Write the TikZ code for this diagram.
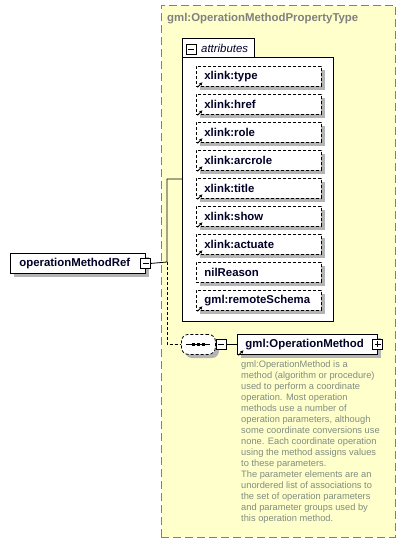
\documentclass[tikz,border=0pt]{standalone}
\usepackage{fontspec}
\setmainfont{Liberation Sans}
\usetikzlibrary{calc,arrows.meta}
\definecolor{yel}{RGB}{255,255,204}
\definecolor{shd}{RGB}{180,180,180}
\definecolor{ttl}{RGB}{128,128,128}
\definecolor{dsc}{RGB}{128,140,128}
\definecolor{nav}{RGB}{0,0,40}
\tikzset{
  lbl/.style={font=\fontsize{11.4}{13}\selectfont\bfseries, text=nav},
  attrbx/.style={draw, dashed, dash pattern=on 3pt off 2pt, fill=white, lbl,
    minimum height=20pt, text width=109pt, inner xsep=8pt, inner ysep=0pt,
    anchor=north west, align=left, line width=0.8pt},
  elbx/.style={draw, fill=white, lbl, minimum height=20pt, inner ysep=0pt,
    anchor=north west, align=left, line width=0.8pt},
  minusbx/.style={draw, fill=white, minimum size=10pt, inner sep=0pt, line width=0.8pt,
    path picture={\draw[line width=0.8pt] ($(path picture bounding box.west)+(2,0)$) -- ($(path picture bounding box.east)+(-2,0)$);}},
  plusbx/.style={draw, fill=white, minimum size=10pt, inner sep=0pt, line width=0.8pt,
    path picture={\draw[line width=0.8pt] ($(path picture bounding box.west)+(2,0)$) -- ($(path picture bounding box.east)+(-2,0)$);
      \draw[line width=0.8pt] ($(path picture bounding box.north)+(0,2)$) -- ($(path picture bounding box.south)+(0,-2)$);}},
  refarrow/.style={-{Latex[length=3pt,width=3.5pt]}, line width=0.9pt},
  conn/.style={line width=0.8pt},
  shadowfill/.style={fill=shd},
}
\begin{document}
\begin{tikzpicture}[x=1pt,y=-1pt]
\useasboundingbox (0,0) rectangle (406,543);
% outer type box
\node[draw=ttl, fill=yel, dashed, dash pattern=on 8pt off 4pt, line width=0.9pt,
  minimum width=234pt, minimum height=532pt, inner sep=0pt, anchor=north west] (ptype) at (161,5) {};
\node[anchor=west, inner sep=0pt, font=\fontsize{11.4}{13}\selectfont\bfseries, text=ttl] (title) at (167,19) {gml:OperationMethodPropertyType};
% attributes container
\node[draw, fill=white, line width=0.8pt, minimum width=151pt, minimum height=264pt, inner sep=0pt, anchor=north west] (attrbox) at (182,57) {};
\node[fill=white, minimum width=72pt, minimum height=19pt, inner sep=0pt, anchor=north west] (attrtab) at (182,38) {};
\draw[line width=0.8pt] (attrtab.south west) |- (attrtab.north east) -- (attrtab.south east);
\node[minusbx] (attrm) at (191,49.5) {};
\node[anchor=west, inner sep=0pt, font=\fontsize{11.4}{13}\selectfont\itshape, text=nav] (attrtxt) at (201,48) {attributes};
% shadows
\foreach \k in {0,...,8}{
  \fill[shadowfill] (200,{70+28*\k}) rectangle ++(125,20);
}
\fill[shadowfill] (14,257) rectangle ++(135,20);
\fill[shadowfill, rounded corners=7pt] (185,338) rectangle ++(34,20);
\fill[shadowfill] (241,338) rectangle ++(140,20);
% attributes
\node[attrbx] (a1) at (196,66) {xlink:type};
\node[attrbx] (a2) at (196,94) {xlink:href};
\node[attrbx] (a3) at (196,122) {xlink:role};
\node[attrbx] (a4) at (196,150) {xlink:arcrole};
\node[attrbx] (a5) at (196,178) {xlink:title};
\node[attrbx] (a6) at (196,206) {xlink:show};
\node[attrbx] (a7) at (196,234) {xlink:actuate};
\node[attrbx] (a8) at (196,262) {nilReason};
\node[attrbx] (a9) at (196,290) {gml:remoteSchema};
\foreach \n in {a1,a2,a3,a4,a5,a6,a7,a9}{
  \draw[refarrow] ($(\n.south west)+(1.5,0.5)$) -- ++(5,-5);
}
% element
\node[elbx, minimum width=135pt, text width=117pt, inner xsep=9pt] (omr) at (10,253) {operationMethodRef};
\node[minusbx] (omrm) at (omr.east) {};
% sequence
\node[draw, dashed, dash pattern=on 3pt off 2pt, fill=white, rounded corners=7pt,
  minimum width=34pt, minimum height=20pt, inner sep=0pt, line width=0.8pt, anchor=north west] (seq) at (181,334) {};
\draw[line width=0.9pt] ($(seq.center)+(-12,0)$) -- ($(seq.center)+(12,0)$);
\foreach \dx in {-5,0,5}{
  \fill ($(seq.center)+(\dx,0)+(-1.6,-1.6)$) rectangle ++(3.2,3.2);
}
\node[minusbx, anchor=west] (seqm) at (seq.east) {};
% child element
\node[elbx, minimum width=140pt, text width=124pt, inner xsep=8pt] (om) at (237,334) {gml:OperationMethod};
\draw[refarrow] ($(om.south west)+(1.5,0.5)$) -- ++(5,-5);
\node[plusbx] (omp) at (om.east) {};
% description
\node[anchor=north west, inner sep=0pt, align=left, text=dsc,
  font=\fontsize{9.3}{11}\selectfont] (desc) at (241,361)
  {gml:OperationMethod is a\\
   method (algorithm or procedure)\\
   used to perform a coordinate\\
   operation. Most operation\\
   methods use a number of\\
   operation parameters, although\\
   some coordinate conversions use\\
   none. Each coordinate operation\\
   using the method assigns values\\
   to these parameters.\\
   The parameter elements are an\\
   unordered list of associations to\\
   the set of operation parameters\\
   and parameter groups used by\\
   this operation method.};
% connectors
\coordinate (j1) at (167,262);
\coordinate (j2) at (167,179);
\draw[conn] (omrm.east) -- (j1) -- (j2) -- (j2 -| attrbox.west);
\draw[conn, dashed, dash pattern=on 3pt off 2pt] (j1) |- (seq.west);
\draw[conn] (seqm.east) -- (om.west);
\end{tikzpicture}
\end{document}
